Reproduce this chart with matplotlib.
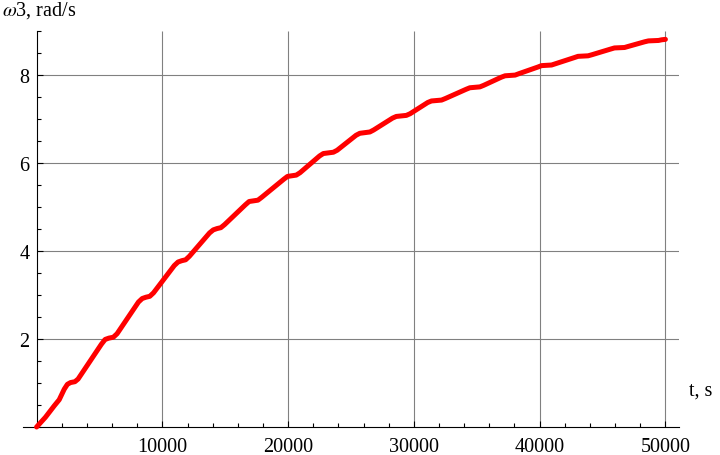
import matplotlib
matplotlib.use("Agg")
import matplotlib.pyplot as plt
from matplotlib.ticker import MultipleLocator

# omega3 vs time
t = [0, 700, 1400, 1800, 2200, 2450, 2700, 3050, 3300,
     5150, 5450, 5750, 6100, 6400,
     8100, 8400, 8700, 9000, 9300,
     10950, 11250, 11550, 11850, 12150,
     13750, 14050, 14350, 14650, 14950,
     16600, 16900, 17250, 17600, 17900,
     19650, 19950, 20300, 20650, 20950,
     22500, 22800, 23200, 23600, 23900,
     25400, 25700, 26100, 26500, 26800,
     28300, 28600, 29000, 29400, 29700,
     31100, 31400, 31800, 32200, 32500,
     34150, 34450, 34850, 35250, 35550,
     36950, 37250, 37650, 38050, 38350,
     39850, 40150, 40550, 40950, 41250,
     42750, 43050, 43450, 43850, 44150,
     45650, 45950, 46350, 46750, 47050,
     48350, 48650, 49050, 49450, 49700,
     50000]
omega3 = [0.0, 0.22, 0.48, 0.62, 0.86, 0.97, 1.01, 1.03, 1.09,
          1.88, 1.99, 2.02, 2.04, 2.12,
          2.84, 2.92, 2.95, 2.97, 3.05,
          3.67, 3.75, 3.78, 3.80, 3.88,
          4.41, 4.48, 4.51, 4.53, 4.60,
          5.05, 5.125, 5.14, 5.155, 5.22,
          5.63, 5.695, 5.71, 5.725, 5.78,
          6.16, 6.215, 6.23, 6.245, 6.29,
          6.63, 6.675, 6.69, 6.705, 6.75,
          7.02, 7.058, 7.07, 7.082, 7.12,
          7.375, 7.41, 7.42, 7.43, 7.465,
          7.675, 7.71, 7.72, 7.73, 7.765,
          7.95, 7.982, 7.99, 7.998, 8.03,
          8.18, 8.213, 8.22, 8.227, 8.255,
          8.395, 8.424, 8.43, 8.436, 8.46,
          8.59, 8.615, 8.62, 8.625, 8.65,
          8.755, 8.775, 8.78, 8.785, 8.80,
          8.81]

x_ticks = [10000, 20000, 30000, 40000, 50000]
y_ticks = [2, 4, 6, 8]

plt.rcParams['font.family'] = ['Liberation Serif', 'DejaVu Serif']
plt.rcParams['mathtext.fontset'] = 'stix'

fig = plt.figure(figsize=(7.2, 4.56), dpi=100)
ax = fig.add_axes([23 / 720, 28 / 456, 656 / 720, 396 / 456])
ax.set_xlim(-1080, 51080)
ax.set_ylim(0, 9)

# grid drawn by hand so it starts at the y axis, like Mathematica
ax.hlines(y_ticks, 0, 51080, color='#808080', lw=0.8, zorder=1)
ax.vlines(x_ticks, 0, 9, color='#808080', lw=0.8, zorder=1)

ax.plot(t, omega3, color='#ff0000', lw=3.6, solid_joinstyle='round',
        solid_capstyle='round', zorder=3, clip_on=False)

for s in ['top', 'right']:
    ax.spines[s].set_visible(False)
ax.spines['left'].set_position(('data', 0))
ax.spines['left'].set_linewidth(0.8)
ax.spines['bottom'].set_linewidth(0.8)

ax.set_xticks(x_ticks)
ax.set_yticks(y_ticks)
ax.xaxis.set_minor_locator(MultipleLocator(2000))
ax.yaxis.set_minor_locator(MultipleLocator(0.5))
ax.tick_params(which='major', direction='in', length=4, width=0.8,
               labelsize=14.5, pad=5)
ax.tick_params(which='minor', direction='in', length=3, width=0.8)
ax.tick_params(axis='x', pad=7)

fig.text(689 / 720, 1 - 396 / 456, 't, s', fontsize=14.5, va='baseline')
fig.text(2 / 720, 1 - 16 / 456, r'$\omega$3, rad/s', fontsize=14.5, va='baseline')

fig.savefig('out.png', dpi=100)
